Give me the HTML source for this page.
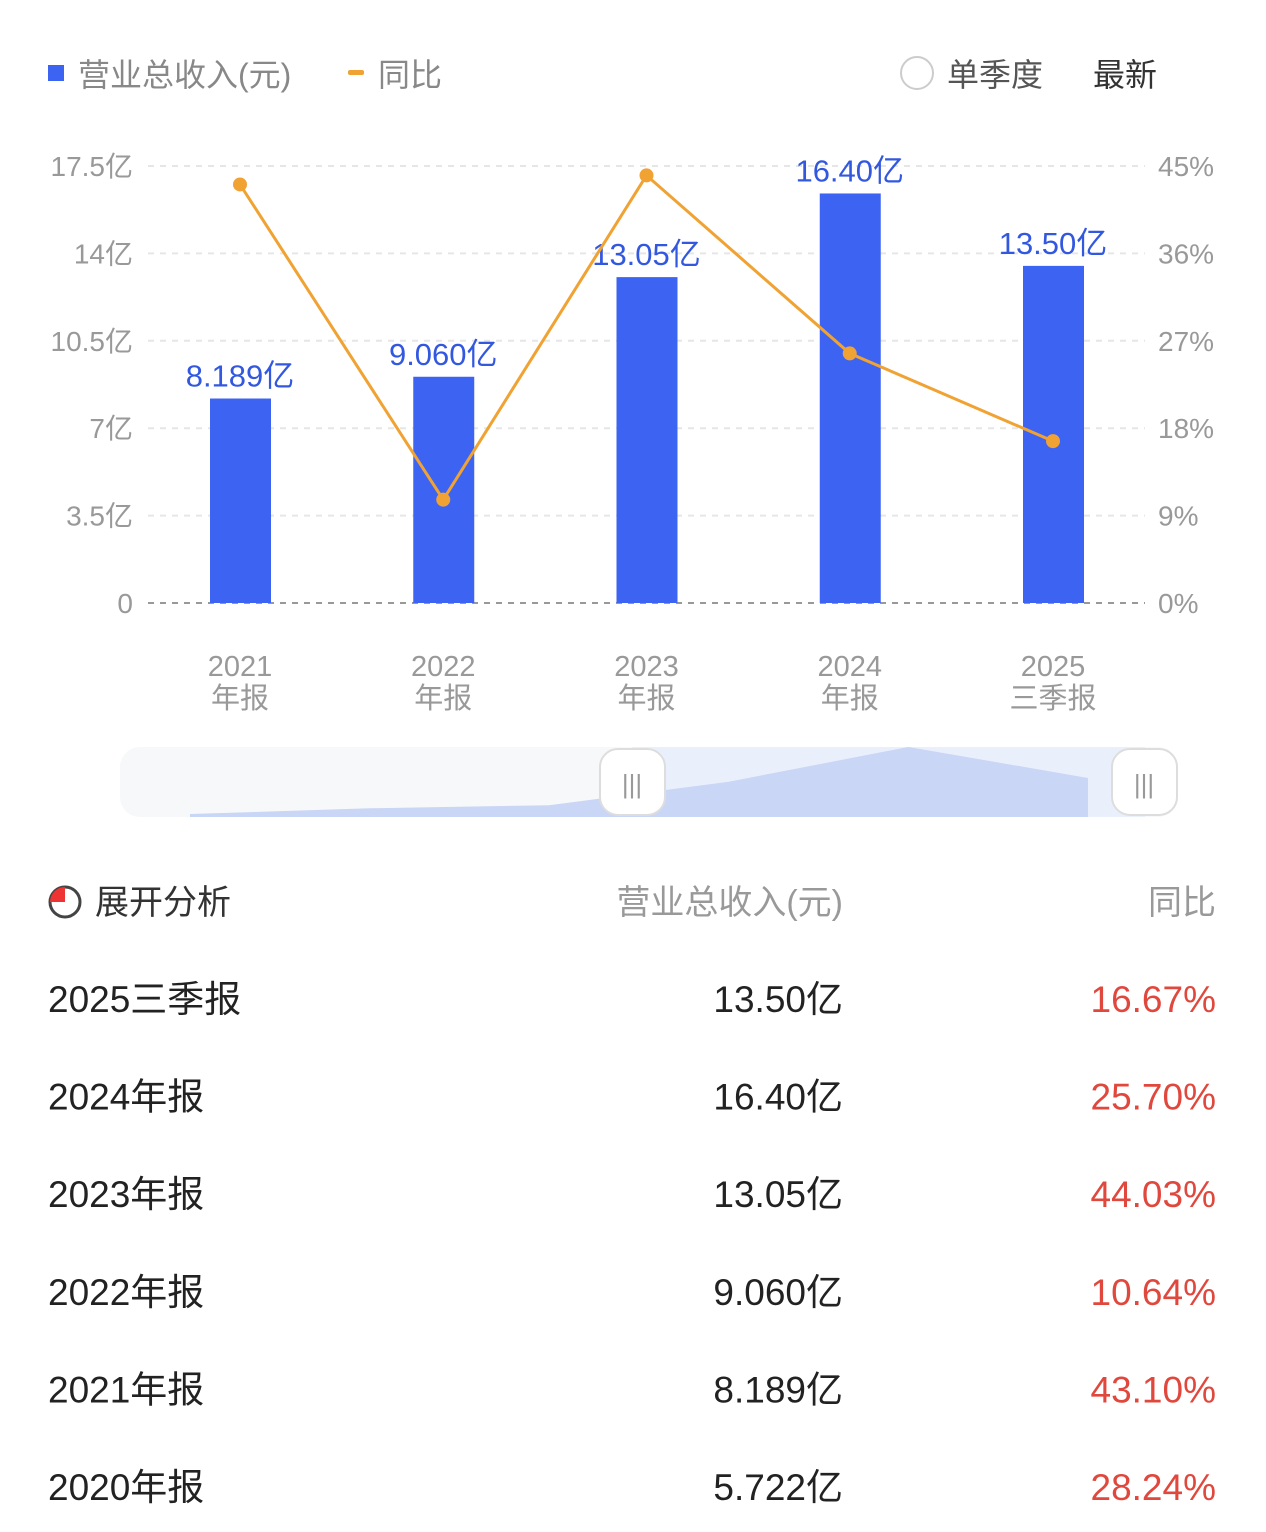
<!DOCTYPE html>
<html><head><meta charset="utf-8"><style>
body{margin:0;width:1266px;height:1527px;background:#fff;font-family:"Liberation Sans","Noto Sans CJK SC",sans-serif;overflow:hidden}
svg text{font-family:"Liberation Sans","Noto Sans CJK SC",sans-serif}
</style></head><body>
<svg width="1266" height="1527">
<g id="legend">
<rect x="48" y="65" width="16" height="16" fill="#3d63f2"/>
<text x="78" y="86" font-size="32" fill="#888">营业总收入(元)</text>
<rect x="348" y="70" width="16" height="5" rx="2" fill="#f0a233"/>
<text x="378" y="86" font-size="32" fill="#888">同比</text>
<circle cx="917" cy="73" r="16" fill="none" stroke="#ccc" stroke-width="2"/>
<text x="947" y="86" font-size="32" fill="#555">单季度</text>
<text x="1093" y="86" font-size="32" fill="#333">最新</text>
</g>
<g id="grid"></g><g id="bars"></g><g id="line"></g><g id="xlabels"></g>
<g id="slider">
<rect x="120" y="747" width="1058" height="70" rx="20" fill="#f7f8fa"/>
<rect x="632" y="747" width="513" height="70" fill="#eaeffc"/>
<path id="sliderArea" fill="#c9d6f5"/>
<rect x="600" y="749" width="65" height="66" rx="18" fill="#fff" stroke="#ddd" stroke-width="2"/>
<text x="632" y="793" font-size="26" fill="#999" text-anchor="middle">|||</text>
<rect x="1112" y="749" width="65" height="66" rx="18" fill="#fff" stroke="#ddd" stroke-width="2"/>
<text x="1144" y="793" font-size="26" fill="#999" text-anchor="middle">|||</text>
</g>
<g>
<circle cx="65" cy="902" r="15" fill="none" stroke="#444" stroke-width="3"/>
<path d="M65 887 A15 15 0 0 0 50 902 L65 902 Z" fill="#e33"/>
<text x="95" y="914" font-size="34" fill="#333">展开分析</text>
<text x="843" y="914" font-size="34" fill="#999" text-anchor="end">营业总收入(元)</text>
<text x="1216" y="914" font-size="34" fill="#999" text-anchor="end">同比</text>
<g id="rows"></g>
</g>
</svg>
<script>
const categories=["2021","2022","2023","2024","2025"];
const catSub=["年报","年报","年报","年报","三季报"];
const revenue=[8.189,9.060,13.05,16.40,13.50];
const revenueLabels=["8.189亿","9.060亿","13.05亿","16.40亿","13.50亿"];
const yoy=[43.10,10.64,44.03,25.70,16.67];
const leftTicks=["0","3.5亿","7亿","10.5亿","14亿","17.5亿"];
const rightTicks=["0%","9%","18%","27%","36%","45%"];
const tableNames=["2025三季报","2024年报","2023年报","2022年报","2021年报","2020年报"];
const tableRev=["13.50亿","16.40亿","13.05亿","9.060亿","8.189亿","5.722亿"];
const tableYoy=["16.67%","25.70%","44.03%","10.64%","43.10%","28.24%"];
const sliderRev=[5.722,8.189,9.060,13.05,16.40,13.50];
const NS="http://www.w3.org/2000/svg";
const y0=603,y1=166;
const yL=v=>y0-v/17.5*(y0-y1);
const yR=v=>y0-v/45*(y0-y1);
const xC=i=>240+i*203.25;
function mk(t,a,p){const e=document.createElementNS(NS,t);for(const k in a)e.setAttribute(k,a[k]);if(a.text!==undefined){e.textContent=a.text;e.removeAttribute('text');}p.appendChild(e);return e;}
const grid=document.getElementById('grid');
leftTicks.forEach((t,i)=>{const y=y0-i*(y0-y1)/5;
const l=mk('line',{x1:148,x2:1145,y1:y,y2:y,stroke:i?'#e6e6e6':'#999','stroke-width':2,'stroke-dasharray':'6 6'},grid);


const a=mk('text',{x:133,y:y+10,'font-size':28,fill:'#999','text-anchor':'end',text:t},grid);


const b=mk('text',{x:1158,y:y+10,'font-size':28,fill:'#999',text:rightTicks[i]},grid);

});
const bars=document.getElementById('bars'),xl=document.getElementById('xlabels');
revenue.forEach((v,i)=>{const x=xC(i);
const r=mk('rect',{x:x-30,y:yL(v),width:61,height:y0-yL(v),fill:'#3d63f2'},bars);


const t=mk('text',{x:x,y:yL(v)-12,'font-size':31,fill:'#3358e0','text-anchor':'middle',text:revenueLabels[i]},bars);


const a=mk('text',{x:x,y:676,'font-size':29,fill:'#999','text-anchor':'middle',text:categories[i]},xl);


const b=mk('text',{x:x,y:708,'font-size':29,fill:'#999','text-anchor':'middle',text:catSub[i]},xl);

});
const lg=document.getElementById('line');
const pl=mk('polyline',{points:yoy.map((v,i)=>xC(i)+','+yR(v)).join(' '),fill:'none',stroke:'#f0a233','stroke-width':3},lg);


yoy.forEach((v,i)=>{const c=mk('circle',{cx:xC(i),cy:yR(v),r:7,fill:'#f0a233'},lg);

});
// slider area
const sx=i=>190+i*(1088-190)/5, sy=v=>817-v/16.4*70;
let d='M190 817 '+sliderRev.map((v,i)=>'L'+sx(i)+' '+(817-Math.pow(v/16.4,3)*70)).join(' ')+' L1088 817 Z';
document.getElementById('sliderArea').setAttribute('d',d);
const rows=document.getElementById('rows');
tableNames.forEach((n,i)=>{const y=1012+i*97.6;
const a=mk('text',{x:48,y:y,'font-size':37,fill:'#222',text:n},rows);


const b=mk('text',{x:843,y:y,'font-size':37,fill:'#222','text-anchor':'end',text:tableRev[i]},rows);


const c=mk('text',{x:1216,y:y,'font-size':37,fill:'#e0483e','text-anchor':'end',text:tableYoy[i]},rows);

});
</script>
</body></html>
